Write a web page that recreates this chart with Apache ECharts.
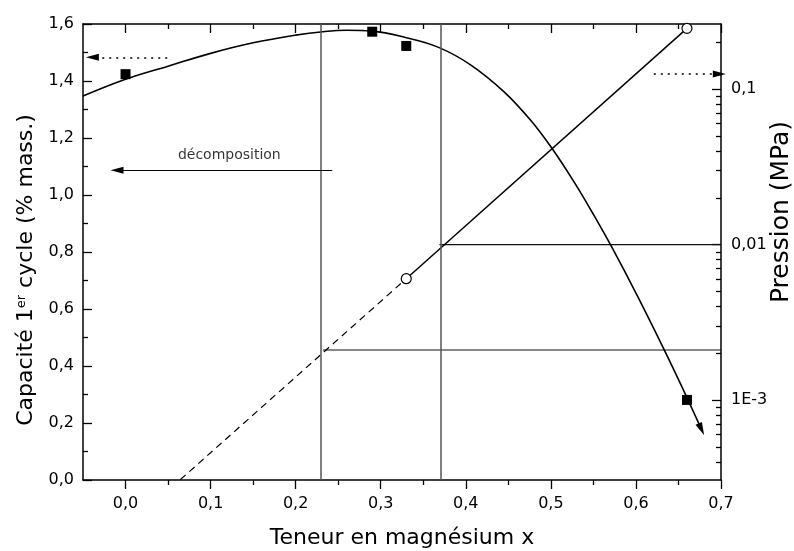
<!DOCTYPE html>
<html><head><meta charset="utf-8">
<script src="https://cdn.jsdelivr.net/npm/echarts@6/dist/echarts.min.js"></script>
<style>html,body{margin:0;padding:0;background:#fff}#c{width:794px;height:551px}</style>
</head><body><div id="c"></div>
<script>
// ---- data ----
const capX = [0.0, 0.29, 0.33, 0.66];
const capY = [1.424, 1.573, 1.523, 0.281];

const fitX = [-0.05, 0.0, 0.05, 0.1, 0.15, 0.2, 0.232, 0.26, 0.29, 0.33, 0.368, 0.406, 0.445, 0.476, 0.5, 0.527, 0.55, 0.572, 0.602, 0.633, 0.66];
const fitY = [1.347, 1.406, 1.452, 1.497, 1.534, 1.561, 1.573, 1.578, 1.575, 1.552, 1.518, 1.456, 1.362, 1.263, 1.169, 1.047, 0.932, 0.815, 0.644, 0.458, 0.289];
const fitArrowX = [0.66, 0.677];
const fitArrowY = [0.289, 0.178];

const presX = [0.33, 0.66];
const presY = [0.00604, 0.2466];
const extrapX = [0.0645, 0.33];
const extrapY = [0.000308, 0.00604];

const vLineX = [0.232, 0.369];
const hLineStartX = [0.232, 0.369];
const hLineP = [0.0021, 0.01];

const xMajor = [0.0, 0.1, 0.2, 0.3, 0.4, 0.5, 0.6, 0.7];
const xMinor = [0.05, 0.15, 0.25, 0.35, 0.45, 0.55, 0.65];
const pMajor = [0.001, 0.01, 0.1];
const pMajorLabels = ['1E-3', '0,01', '0,1'];
const pMinor = [0.0004, 0.0005, 0.0006, 0.0007, 0.0008, 0.0009,
  0.002, 0.003, 0.004, 0.005, 0.006, 0.007, 0.008, 0.009,
  0.02, 0.03, 0.04, 0.05, 0.06, 0.07, 0.08, 0.09, 0.2];

// annotation arrows (left-axis data coords)
const decompArrow = [[0.243, 1.087], [-0.010, 1.087]];
const decompText = [0.122, 1.140];
const leftDotArrow = [[0.049, 1.483], [-0.039, 1.483]];
const rightDotArrow = [[0.621, 1.425], [0.698, 1.425]];

// ---- chart ----
const FONT = 'DejaVu Sans';
const X_MIN = -0.05, X_MAX = 0.7, P_MIN = 0.000306, P_MAX = 0.263;
const zip = (a, b) => a.map((v, i) => [v, b[i]]);
const comma = v => v.toFixed(1).replace('.', ',');
const black = '#000';
const arrowHead = 'path://M5,0 L10,14 L0,14 Z';
const tip = c => ({ coord: c, symbol: arrowHead, symbolSize: [7, 13] });

function xAx(pos, ticks, len, extra) {
  return Object.assign({
    type: 'value', position: pos, min: X_MIN, max: X_MAX,
    axisLine: { show: false, onZero: false, lineStyle: { color: black, width: 1.5 } },
    axisTick: { show: true, customValues: ticks, length: len, inside: pos === 'top', lineStyle: { color: black, width: 1.3 } },
    axisLabel: { show: false },
    splitLine: { show: false }
  }, extra || {});
}

const chart = echarts.init(document.getElementById('c'), null, { renderer: 'canvas' });
chart.setOption({
  animation: false,
  backgroundColor: '#fff',
  grid: { left: 83, right: 73, top: 24, bottom: 71, containLabel: false, outerBoundsMode: 'none' },
  xAxis: [
    xAx('bottom', xMajor, 9, {
      axisLine: { show: true, onZero: false, lineStyle: { color: black, width: 1.5 } },
      axisLabel: { show: true, customValues: xMajor, formatter: comma, fontFamily: FONT, fontSize: 16, color: black, margin: 16 },
      name: 'Teneur en magnésium x', nameLocation: 'middle', nameGap: 47,
      nameTextStyle: { fontFamily: FONT, fontSize: 22, color: black }
    }),
    xAx('bottom', xMinor, 5),
    xAx('top', xMajor, 9, { axisLine: { show: true, onZero: false, lineStyle: { color: black, width: 1.5 } } }),
    xAx('top', xMinor, 5)
  ],
  yAxis: [
    {
      type: 'value', position: 'left', min: 0, max: 1.6, interval: 0.2,
      axisLine: { show: true, onZero: false, lineStyle: { color: black, width: 1.5 } },
      axisTick: { show: true, inside: true, length: 9, lineStyle: { color: black, width: 1.3 } },
      minorTick: { show: true, splitNumber: 2, length: 5, lineStyle: { color: black, width: 1.3 } },
      axisLabel: { formatter: comma, fontFamily: FONT, fontSize: 16, color: black, margin: 9 },
      splitLine: { show: false },
      name: '{a|Capacité 1}{s|er}{a| cycle (% mass.)}',
      nameLocation: 'middle', nameGap: 46, nameRotate: 90,
      nameTextStyle: {
        fontFamily: FONT, fontSize: 22, color: black, padding: [0, 36, 0, 0],
        rich: {
          a: { fontFamily: FONT, fontSize: 22, color: black },
          s: { fontFamily: FONT, fontSize: 13, color: black, verticalAlign: 'top' }
        }
      }
    },
    {
      type: 'log', logBase: 10, position: 'right', min: P_MIN, max: P_MAX,
      axisLine: { show: true, onZero: false, lineStyle: { color: black, width: 1.5 } },
      axisTick: { show: true, inside: true, length: 9, customValues: pMajor, lineStyle: { color: black, width: 1.3 } },
      axisLabel: {
        show: true, customValues: pMajor, fontFamily: FONT, fontSize: 16, color: black, margin: 10,
        formatter: v => {
          for (let i = 0; i < pMajor.length; i++) {
            if (Math.abs(Math.log10(v) - Math.log10(pMajor[i])) < 1e-6) return pMajorLabels[i];
          }
          return '';
        }
      },
      splitLine: { show: false },
      name: 'Pression (MPa)', nameLocation: 'middle', nameGap: 48, nameRotate: 90, nameMoveOverlap: false,
      nameTextStyle: { fontFamily: FONT, fontSize: 25, color: black, padding: [0, 0, 0, 80] }
    },
    {
      type: 'log', logBase: 10, position: 'right', min: P_MIN, max: P_MAX,
      axisLine: { show: false, onZero: false },
      axisTick: { show: true, inside: true, length: 5, customValues: pMinor, lineStyle: { color: black, width: 1.3 } },
      axisLabel: { show: false },
      splitLine: { show: false }
    }
  ],
  series: [
    {
      type: 'line', name: 'vlines', xAxisIndex: 0, yAxisIndex: 0, data: [], silent: true,
      markLine: {
        silent: true, symbol: ['none', 'none'], label: { show: false },
        lineStyle: { color: '#555', width: 1.5, type: 'solid' },
        data: vLineX.map(x => ({ xAxis: x }))
      }
    },
    ...hLineStartX.map((x, i) => ({
      type: 'line', xAxisIndex: 0, yAxisIndex: 1, showSymbol: false, silent: true,
      data: [[x, hLineP[i]], [X_MAX, hLineP[i]]],
      lineStyle: { color: '#111', width: 1.2 }
    })),
    {
      type: 'line', name: 'fit', xAxisIndex: 0, yAxisIndex: 0, smooth: 0.4, showSymbol: false,
      data: zip(fitX, fitY), lineStyle: { color: black, width: 1.6 }, z: 3,
      markLine: {
        silent: true, animation: false, label: { show: false },
        symbol: ['none', 'triangle'], symbolSize: 10,
        lineStyle: { color: black, width: 1.6, type: 'solid' },
        data: [[{ coord: [fitArrowX[0], fitArrowY[0]] }, tip([fitArrowX[1], fitArrowY[1]])]]
      }
    },
    {
      type: 'line', name: 'extrap', xAxisIndex: 0, yAxisIndex: 1, showSymbol: false,
      data: zip(extrapX, extrapY), lineStyle: { color: black, width: 1.2, type: [7, 5] }
    },
    {
      type: 'line', name: 'pression', xAxisIndex: 0, yAxisIndex: 1,
      symbol: 'circle', symbolSize: 10, showSymbol: true, z: 4,
      itemStyle: { color: '#fff', borderColor: black, borderWidth: 1.2, opacity: 1 },
      data: zip(presX, presY), lineStyle: { color: black, width: 1.5 }
    },
    {
      type: 'scatter', name: 'capacite', xAxisIndex: 0, yAxisIndex: 0,
      symbol: 'rect', symbolSize: 10, itemStyle: { color: black, opacity: 1 }, z: 5,
      data: zip(capX, capY)
    },
    {
      type: 'scatter', name: 'annot', xAxisIndex: 0, yAxisIndex: 0, symbolSize: 0, silent: true,
      data: [decompText],
      label: { show: true, position: 'inside', formatter: 'décomposition', fontFamily: FONT, fontSize: 14, color: black },
      markLine: {
        silent: true, animation: false, label: { show: false },
        symbol: ['none', 'triangle'], symbolSize: 10,
        lineStyle: { color: black, width: 1.2, type: 'solid' },
        data: [
          [{ coord: decompArrow[0] }, tip(decompArrow[1])],
          [{ coord: leftDotArrow[0], lineStyle: { type: [2, 5], width: 1.6 } }, tip(leftDotArrow[1])],
          [{ coord: rightDotArrow[0], lineStyle: { type: [2, 5], width: 1.6 } }, tip(rightDotArrow[1])]
        ]
      }
    }
  ]
});
</script>
</body></html>
